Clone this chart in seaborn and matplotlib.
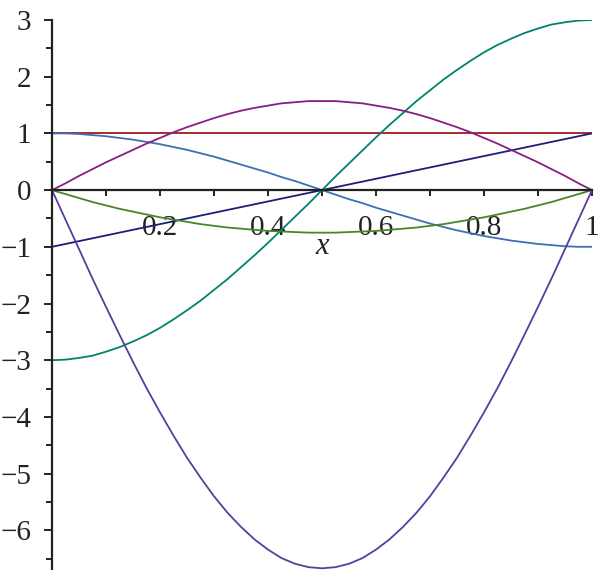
import numpy as np
import pandas as pd
import matplotlib
matplotlib.use("Agg")
import matplotlib.pyplot as plt
import seaborn as sns
from matplotlib.ticker import MultipleLocator, FixedLocator

# x grid for the curved lines (step 0.025)
x_grid = [k / 40 for k in range(41)]

# values
y_blue = [1.00, 1.00, 0.99, 0.97, 0.95, 0.92, 0.89, 0.85, 0.81, 0.76, 0.71,
          0.65, 0.59, 0.52, 0.45, 0.38, 0.31, 0.23, 0.16, 0.08, 0.00,
          -0.08, -0.16, -0.23, -0.31, -0.38, -0.45, -0.52, -0.59, -0.65, -0.71,
          -0.76, -0.81, -0.85, -0.89, -0.92, -0.95, -0.97, -0.99, -1.00, -1.00]
y_teal = [-3.00, -2.99, -2.96, -2.92, -2.85, -2.77, -2.67, -2.56, -2.43, -2.28, -2.12,
          -1.95, -1.76, -1.57, -1.36, -1.15, -0.93, -0.70, -0.47, -0.24, 0.00,
          0.24, 0.47, 0.70, 0.93, 1.15, 1.36, 1.57, 1.76, 1.95, 2.12,
          2.28, 2.43, 2.56, 2.67, 2.77, 2.85, 2.92, 2.96, 2.99, 3.00]
y_magenta = [0.00, 0.12, 0.25, 0.37, 0.49, 0.60, 0.71, 0.82, 0.92, 1.02, 1.11,
             1.19, 1.27, 1.34, 1.40, 1.45, 1.49, 1.53, 1.55, 1.57, 1.57,
             1.57, 1.55, 1.53, 1.49, 1.45, 1.40, 1.34, 1.27, 1.19, 1.11,
             1.02, 0.92, 0.82, 0.71, 0.60, 0.49, 0.37, 0.25, 0.12, 0.00]
y_violet = [0.00, -0.52, -1.04, -1.56, -2.06, -2.55, -3.03, -3.49, -3.92, -4.33, -4.72,
            -5.07, -5.40, -5.69, -5.94, -6.16, -6.34, -6.49, -6.59, -6.65, -6.67,
            -6.65, -6.59, -6.49, -6.34, -6.16, -5.94, -5.69, -5.40, -5.07, -4.72,
            -4.33, -3.92, -3.49, -3.03, -2.55, -2.06, -1.56, -1.04, -0.52, 0.00]
y_green = [0.00, -0.07, -0.14, -0.21, -0.27, -0.33, -0.38, -0.43, -0.48, -0.52, -0.56,
           -0.60, -0.63, -0.66, -0.68, -0.70, -0.72, -0.73, -0.74, -0.75, -0.75,
           -0.75, -0.74, -0.73, -0.72, -0.70, -0.68, -0.66, -0.63, -0.60, -0.56,
           -0.52, -0.48, -0.43, -0.38, -0.33, -0.27, -0.21, -0.14, -0.07, 0.00]

# straight lines: end points
x_ends = [0.0, 1.0]
y_red = [1.0, 1.0]
y_navy = [-1.0, 1.0]

x_ticklabels = ["0.2", "0.4", "0.6", "0.8", "1"]
y_ticklabels = ["\u22126", "\u22125", "\u22124", "\u22123", "\u22122", "\u22121", "0", "1", "2", "3"]

frames = []
for name, xs, ys in [("red", x_ends, y_red), ("navy", x_ends, y_navy),
                     ("blue", x_grid, y_blue), ("teal", x_grid, y_teal),
                     ("magenta", x_grid, y_magenta), ("green", x_grid, y_green),
                     ("violet", x_grid, y_violet)]:
    frames.append(pd.DataFrame({"x": xs, "y": ys, "curve": name}))
df = pd.concat(frames, ignore_index=True)

palette = {"red": "#9b1c22", "navy": "#1e1e78", "blue": "#3d6fb2",
           "teal": "#00836c", "magenta": "#8a1d82", "green": "#45862c",
           "violet": "#5a3c9f"}

sns.set_style("white")
plt.rcParams['font.family'] = ['Liberation Serif', 'DejaVu Serif']

fig = plt.figure(figsize=(6, 5.7), dpi=100)
ax = fig.add_axes([52 / 600, 0, 540 / 600, 550 / 570])

sns.lineplot(data=df, x="x", y="y", hue="curve", palette=palette,
             linewidth=1.3, legend=False, sort=False, estimator=None, ax=ax)

ax.set_xlim(0, 1)
ax.set_ylim(-6.7, 3)

for s in ["top", "right"]:
    ax.spines[s].set_visible(False)
ax.spines["left"].set_position(("data", 0))
ax.spines["bottom"].set_position(("data", 0))
ax.spines["left"].set_linewidth(1.6)
ax.spines["bottom"].set_linewidth(1.6)
ax.spines["left"].set_color("#222222")
ax.spines["bottom"].set_color("#222222")

ax.xaxis.set_major_locator(FixedLocator([0.2, 0.4, 0.6, 0.8, 1.0]))
ax.xaxis.set_minor_locator(FixedLocator([0.1, 0.3, 0.5, 0.7, 0.9]))
ax.set_xticklabels(x_ticklabels)
ax.yaxis.set_major_locator(FixedLocator(list(range(-6, 4))))
ax.yaxis.set_minor_locator(MultipleLocator(0.5))
ax.set_yticklabels(y_ticklabels)

ax.tick_params(axis="x", which="both", bottom=True, direction="out", length=4,
               width=1.4, color="#222222", labelsize=21, pad=14)
ax.tick_params(axis="y", which="major", left=True, direction="out", length=6,
               width=1.4, color="#222222", labelsize=21, pad=9)
ax.tick_params(axis="y", which="minor", left=True, direction="out", length=4,
               width=1.4, color="#222222")
for lab in ax.get_xticklabels() + ax.get_yticklabels():
    lab.set_color("#222222")

ax.set_ylabel("")
ax.set_xlabel("")
ax.text(0.5, -1.0, "x", fontsize=22, style="italic", ha="center", va="center",
        color="#222222")

fig.savefig("out.png", dpi=100)
